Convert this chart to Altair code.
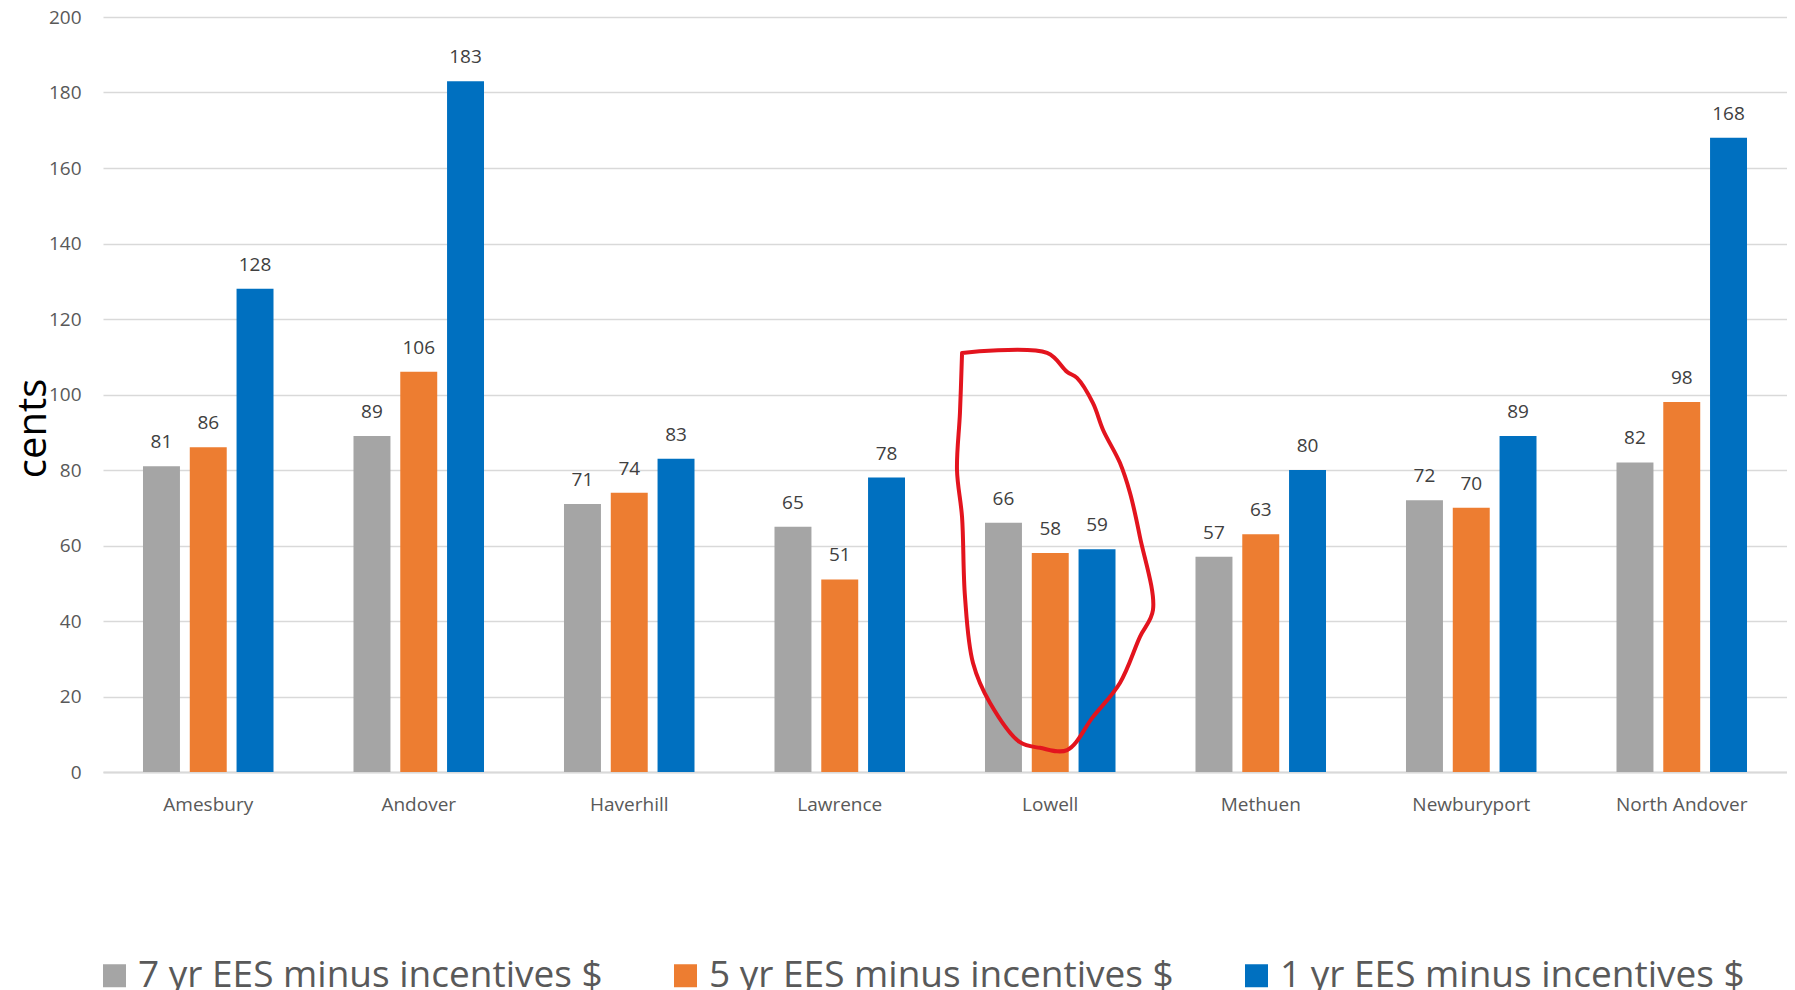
import altair as alt
import pandas as pd

towns = ["Amesbury", "Andover", "Haverhill", "Lawrence", "Lowell", "Methuen", "Newburyport", "North Andover"]
series = ["7 yr EES minus incentives $", "5 yr EES minus incentives $", "1 yr EES minus incentives $"]
seven_yr = [81, 89, 71, 65, 66, 57, 72, 82]
five_yr = [86, 106, 74, 51, 58, 63, 70, 98]
one_yr = [128, 183, 83, 78, 59, 80, 89, 168]
colors = ["#A5A5A5", "#ED7D31", "#0070C0"]

# hand-drawn red loop around Lowell (x in category units, y in cents)
loop_x = [4.081, 4.485, 4.580, 4.627, 4.703, 4.751, 4.831, 4.879, 4.926, 4.988, 4.926, 4.831,
          4.703, 4.580, 4.451, 4.356, 4.214, 4.133, 4.095, 4.081, 4.057, 4.071, 4.081]
loop_y = [111.0, 111.0, 106.0, 104.4, 97.7, 90.6, 81.9, 73.9, 62.3, 42.9, 35.8, 23.6,
          14.6, 5.8, 6.4, 7.9, 18.3, 28.9, 46.4, 67.5, 80.0, 95.1, 111.0]

rows = []
for s, vals in zip(series, [seven_yr, five_yr, one_yr]):
    for t, v in zip(towns, vals):
        rows.append({"town": t, "series": s, "value": v})
df = pd.DataFrame(rows)
loop = pd.DataFrame({"u": loop_x, "v": loop_y, "i": list(range(len(loop_x)))})

FONT = "Open Sans"

x_enc = alt.X("town:N", sort=towns,
              scale=alt.Scale(paddingInner=0.38, paddingOuter=0.19),
              axis=alt.Axis(title=None, labelAngle=0, labelFontSize=19, labelColor="#595959",
                            labelFont=FONT, ticks=False, labelPadding=23, domain=True,
                            domainColor="#D9D9D9", domainWidth=2, grid=False))
xoff = alt.XOffset("series:N", sort=series, scale=alt.Scale(paddingInner=0.21, paddingOuter=0))
y_enc = alt.Y("value:Q", scale=alt.Scale(domain=[0, 200], nice=False),
              axis=alt.Axis(title="cents", values=list(range(0, 201, 20)), labelFontSize=19,
                            labelColor="#595959", labelFont=FONT, ticks=False, labelPadding=22,
                            domain=False, grid=True, gridColor="#D9D9D9", gridWidth=1.5,
                            titleFontSize=40, titleFont=FONT, titleColor="#000000",
                            titleFontWeight="normal", titleAngle=270, titleBaseline="alphabetic",
                            titleAlign="center", titleX=-58, titleY=411))

bars = alt.Chart(df).mark_bar().encode(
    x=x_enc, xOffset=xoff, y=y_enc,
    color=alt.Color("series:N", sort=series,
                    scale=alt.Scale(domain=series, range=colors),
                    legend=alt.Legend(title=None, orient="none", legendX=-7, legendY=940,
                                      direction="horizontal", symbolType="square",
                                      symbolSize=529, symbolStrokeWidth=0,
                                      labelFontSize=37, labelFont=FONT, labelColor="#595959",
                                      labelOffset=5, columnPadding=64, labelLimit=900)),
)

labels = alt.Chart(df).mark_text(baseline="alphabetic", dy=-18, fontSize=19, font=FONT,
                                 color="#404040").encode(
    x=alt.X("town:N", sort=towns), xOffset=alt.XOffset("series:N", sort=series),
    y="value:Q", text="value:Q")

base = alt.layer(bars, labels)

ring = alt.Chart(loop).mark_line(color="#E3141E", strokeWidth=4, interpolate="catmull-rom",
                                 strokeCap="round", strokeJoin="round").encode(
    x=alt.X("u:Q", scale=alt.Scale(domain=[0, 8], nice=False, zero=False), axis=None),
    y=alt.Y("v:Q"),
    order="i:Q")

chart = alt.layer(base, ring).resolve_scale(x="independent").properties(
    width=1684, height=755,
    autosize=alt.AutoSizeParams(type="none"),
    padding={"left": 95, "top": 9, "right": 0, "bottom": 218},
    background="white",
).configure_view(stroke=None)

chart.save("out.html", embed_options={"renderer": "svg", "actions": False})
